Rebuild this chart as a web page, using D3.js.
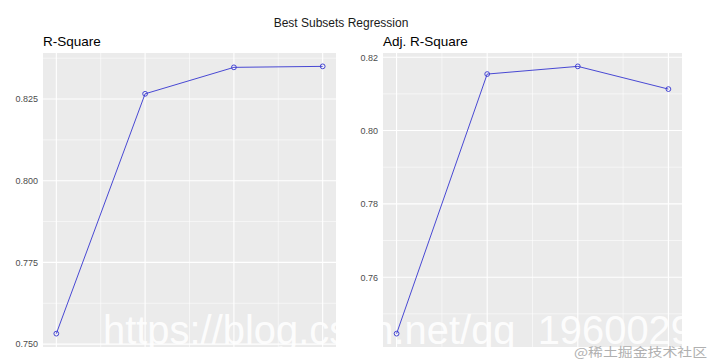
<!DOCTYPE html>
<html>
<head>
<meta charset="utf-8">
<script src="https://cdn.jsdelivr.net/npm/d3@7"></script>
<style>
  body { margin: 0; background: #fff; }
  svg { display: block; font-family: "Liberation Sans", Arial, sans-serif; }
</style>
</head>
<body>
<svg id="chart" width="714" height="363"></svg>
<script>
// Best subsets regression: R-Square and Adj. R-Square by model size
const modelSize   = [1, 2, 3, 4];
const rsquare     = [0.7532, 0.8266, 0.8347, 0.8350];
const adjRsquare  = [0.7446, 0.8154, 0.8175, 0.8113];
const rsqTicks    = [0.750, 0.775, 0.800, 0.825];
const adjTicks    = [0.76, 0.78, 0.80, 0.82];

const svg = d3.select('#chart');

svg.append('text')
  .attr('x', 341).attr('y', 27)
  .attr('text-anchor', 'middle')
  .attr('font-size', 12).attr('fill', '#1a1a1a')
  .text('Best Subsets Regression');

// clip for the white watermark (only visible on the grey panels)
const clip = svg.append('defs').append('clipPath').attr('id', 'panels');

// ggplot-style panel with 5% expansion on both axes
function panel({ left, right, top, bottom, title, values, ticks, fmt, minorStep }) {
  const g = svg.append('g');

  clip.append('rect')
    .attr('x', left).attr('y', top)
    .attr('width', right - left).attr('height', bottom - top);

  const xExt = d3.extent(modelSize), xPad = (xExt[1] - xExt[0]) * 0.05;
  const yExt = d3.extent(values),   yPad = (yExt[1] - yExt[0]) * 0.05;

  const x = d3.scaleLinear().domain([xExt[0] - xPad, xExt[1] + xPad]).range([left, right]);
  const y = d3.scaleLinear().domain([yExt[0] - yPad, yExt[1] + yPad]).range([bottom, top]);

  g.append('rect')
    .attr('x', left).attr('y', top)
    .attr('width', right - left).attr('height', bottom - top)
    .attr('fill', '#ebebeb');

  // minor grid
  const [y0, y1] = y.domain();
  const yMinor = d3.range(ticks[0] - minorStep, y1, minorStep * 2).filter(v => v > y0 && v < y1);
  const xMinor = d3.range(0.5, 5, 1).filter(v => v > x.domain()[0] && v < x.domain()[1]);

  g.selectAll('.ymin').data(yMinor).join('line')
    .attr('x1', left).attr('x2', right)
    .attr('y1', d => y(d)).attr('y2', d => y(d))
    .attr('stroke', '#fff').attr('stroke-width', 0.55);
  g.selectAll('.xmin').data(xMinor).join('line')
    .attr('y1', top).attr('y2', bottom)
    .attr('x1', d => x(d)).attr('x2', d => x(d))
    .attr('stroke', '#fff').attr('stroke-width', 0.55);

  // major grid
  g.selectAll('.ymaj').data(ticks).join('line')
    .attr('x1', left).attr('x2', right)
    .attr('y1', d => y(d)).attr('y2', d => y(d))
    .attr('stroke', '#fff').attr('stroke-width', 1.1);
  g.selectAll('.xmaj').data(modelSize).join('line')
    .attr('y1', top).attr('y2', bottom)
    .attr('x1', d => x(d)).attr('x2', d => x(d))
    .attr('stroke', '#fff').attr('stroke-width', 1.1);

  // y axis labels (no ticks, no domain)
  const axis = g.append('g')
    .attr('transform', `translate(${left},0)`)
    .call(d3.axisLeft(y).tickValues(ticks).tickFormat(fmt).tickSize(0).tickPadding(5));
  axis.select('.domain').remove();
  axis.selectAll('text')
    .attr('font-size', 9).attr('fill', '#4d4d4d')
    .attr('font-family', '"Liberation Sans", Arial, sans-serif');

  const pts = modelSize.map((m, i) => [m, values[i]]);

  g.append('path')
    .datum(pts)
    .attr('fill', 'none')
    .attr('stroke', '#3535d0').attr('stroke-width', 0.9)
    .attr('d', d3.line().x(d => x(d[0])).y(d => y(d[1])));

  g.selectAll('circle').data(pts).join('circle')
    .attr('cx', d => x(d[0])).attr('cy', d => y(d[1]))
    .attr('r', 2.4)
    .attr('fill', 'none').attr('stroke', '#3535d0').attr('stroke-width', 0.9);

  svg.append('text')
    .attr('x', left).attr('y', top - 7)
    .attr('font-size', 13.5).attr('fill', '#000')
    .text(title);
}

panel({
  left: 43, right: 336, top: 53, bottom: 347,
  title: 'R-Square', values: rsquare, ticks: rsqTicks,
  fmt: d3.format('.3f'), minorStep: 0.0125
});

panel({
  left: 383, right: 682, top: 53, bottom: 347,
  title: 'Adj. R-Square', values: adjRsquare, ticks: adjTicks,
  fmt: d3.format('.2f'), minorStep: 0.01
});

// watermarks
svg.append('text')
  .attr('x', 103).attr('y', 344)
  .attr('clip-path', 'url(#panels)')
  .attr('font-size', 40).attr('fill', '#fff').attr('fill-opacity', 0.9)
  .attr('textLength', 590).attr('lengthAdjust', 'spacingAndGlyphs')
  .text('https://blog.csdn.net/qq_1960029');

svg.append('text')
  .attr('x', 574).attr('y', 357)
  .attr('font-size', 12.5).attr('fill', '#b0b0b0')
  .attr('font-family', '"Noto Sans CJK SC", sans-serif')
  .attr('textLength', 133).attr('lengthAdjust', 'spacingAndGlyphs')
  .text('@稀土掘金技术社区');
</script>
</body>
</html>
